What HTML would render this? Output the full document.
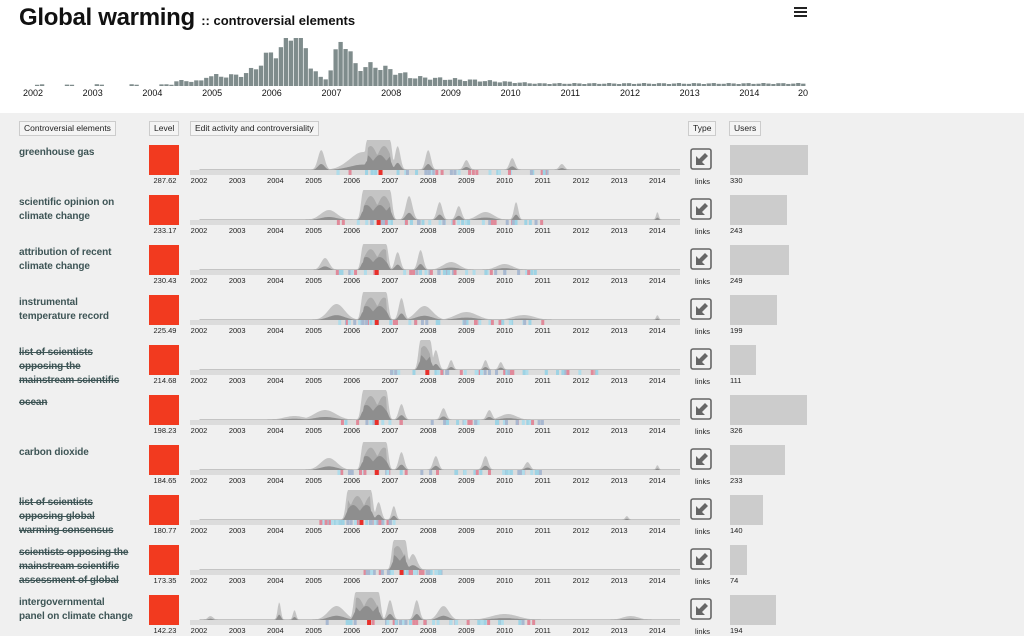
<!DOCTYPE html>
<html><head><meta charset="utf-8">
<style>
body{margin:0;width:1024px;height:633px;overflow:hidden;background:#f0f0f0;font-family:"Liberation Sans",sans-serif;position:relative}
#top{position:absolute;left:0;top:0;width:1024px;height:113px;background:#fff}
h1{position:absolute;left:19px;top:4px;margin:0;font-size:24px;font-weight:bold;color:#111;letter-spacing:-0.3px}
h1 span{font-size:13px;font-weight:bold;letter-spacing:0}
.ham{position:absolute;left:794px;top:7px;width:13px}
.ham div{height:2px;background:#222;margin-bottom:2px}
.hdr{position:absolute;top:121px;height:13px;border:1px solid #ccc;background:#f4f4f4;font-size:8.5px;line-height:13px;padding:0 4px;color:#222}
.name{position:absolute;left:19px;font-size:10px;font-weight:bold;color:#3e5556;line-height:14px;width:130px;letter-spacing:-0.1px}
.s{text-decoration:line-through}
.lvl{position:absolute;left:149px;width:30px;height:30px;background:#f23a1f}
.val{position:absolute;font-size:7.5px;color:#222}
.ico{position:absolute;left:690px;width:22px;height:22px}
.usr{position:absolute;left:730px;height:30px;background:#ccc}
svg text{font-family:"Liberation Sans",sans-serif}
</style></head><body>
<div id="top"></div>
<h1>Global warming <span>:: controversial elements</span></h1>
<div class="ham"><div></div><div></div><div></div></div>
<svg id="hist" style="position:absolute;left:0;top:0" width="1024" height="113"></svg>
<div class="hdr" style="left:19px">Controversial elements</div>
<div class="hdr" style="left:149px">Level</div>
<div class="hdr" style="left:190px">Edit activity and controversiality</div>
<div class="hdr" style="left:688px">Type</div>
<div class="hdr" style="left:729px">Users</div>
<svg id="sp" style="position:absolute;left:0;top:0" width="1024" height="633"></svg>
<div id="rows"></div>
<script>
var NS="http://www.w3.org/2000/svg";
function el(p,t,a,txt){var e=document.createElementNS(NS,t);for(var k in a)e.setAttribute(k,a[k]);if(txt)e.textContent=txt;p.appendChild(e);return e;}
var h=document.getElementById('hist');
var x0=33,py=59.7;
function hv(t){
 var v=1.5;
 if(t>2004.4)v=5;
 if(t>2004.9)v=10;
 v+=42*Math.exp(-Math.pow((t-2006.45)/0.18,2))+24*Math.exp(-Math.pow((t-2006.1)/0.35,2));
 v+=36*Math.exp(-Math.pow((t-2007.2)/0.15,2))+10*Math.exp(-Math.pow((t-2007.7)/0.4,2));
 if(t>2006.75&&t<2006.95)v=8;
 if(t>2008.3)v=Math.max(2,9-(t-2008.3)*3);
 if(t>2010.5)v=2.5;
 v*=0.8+0.4*((Math.sin(t*97.3)+1)/2);
 return v;}
for(var m=0;m<156;m++){var t=2002+m/12;var v=Math.min(48,hv(t));
 if(t<2004.3&&Math.sin(m*7.3)<0.5)continue;
 el(h,'rect',{x:x0-3+m*py/12,y:86-v,width:4.3,height:v,fill:'#7f8c8c'});}
var yrs=['2002','2003','2004','2005','2006','2007','2008','2009','2010','2011','2012','2013','2014','20'];
yrs.forEach(function(y,i){el(h,'text',{x:i==13?803:x0+i*py,y:96,'font-size':9,fill:'#111','text-anchor':'middle'},y)});
var rows=[
 ["greenhouse gas",0,"287.62",330,[[2006.4,2007.0,30],[2005.2,0.12,20],[2006.3,0.5,18],[2006.9,0.1,26],[2007.2,0.1,24],[2008.0,0.1,20],[2009,0.1,10],[2010.2,0.1,12],[2011.5,0.1,6]]],
 ["scientific opinion on<br>climate change",0,"233.17",243,[[2006.3,2007.0,30],[2005.4,0.3,10],[2007.5,0.12,24],[2008.3,0.1,18],[2008.8,0.1,14],[2010.3,0.08,18],[2009.5,0.3,8],[2014.0,0.05,8]]],
 ["attribution of recent<br>climate change",0,"230.43",249,[[2006.3,2006.9,26],[2005.3,0.15,12],[2007.2,0.1,18],[2007.8,0.1,20],[2008.6,0.3,8],[2010,0.3,6]]],
 ["instrumental<br>temperature record",0,"225.49",199,[[2006.3,2006.9,28],[2005.6,0.3,16],[2007.3,0.1,22],[2007.9,0.3,14],[2009,0.4,8],[2010.5,0.4,5],[2014.0,0.05,5]]],
 ["list of scientists<br>opposing the<br>mainstream scientific",1,"214.68",111,[[2007.8,2008.05,30],[2008.2,0.1,20],[2008.6,0.08,10],[2009.5,0.08,10],[2009.9,0.08,8]]],
 ["ocean",1,"198.23",326,[[2006.3,2006.9,30],[2005.3,0.4,10],[2007.3,0.1,16],[2008.4,0.1,12],[2009.6,0.1,10],[2010.1,0.3,6],[2004.5,0.4,4]]],
 ["carbon dioxide",0,"184.65",233,[[2006.3,2006.9,28],[2005.4,0.3,12],[2007.3,0.1,18],[2008.2,0.1,14],[2009.5,0.1,14],[2010.6,0.1,8],[2014,0.05,5]]],
 ["list of scientists<br>opposing global<br>warming consensus",1,"180.77",140,[[2005.9,2006.5,30],[2006.7,0.1,18],[2007.1,0.08,14],[2013.2,0.06,4]]],
 ["scientists opposing the<br>mainstream scientific<br>assessment of global",1,"173.35",74,[[2007.1,2007.4,30],[2007.6,0.15,16]]],
 ["intergovernmental<br>panel on climate change",0,"142.23",194,[[2006.1,2006.7,28],[2004.1,0.06,18],[2004.5,0.06,10],[2005.6,0.3,14],[2007.0,0.1,20],[2007.7,0.1,20],[2008.4,0.2,14],[2010,0.5,6],[2002.3,0.1,4],[2013.3,0.3,4]]]
];
var sp=document.getElementById('sp'),R=document.getElementById('rows');
var sx0=199,syr=38.2;
function X(t){return sx0+(t-2002)*syr;}
var html='';
rows.forEach(function(r,i){
 var top=145+i*50;
 html+='<div class="name'+(r[1]?' s':'')+'" style="top:'+(top+1)+'px">'+r[0]+'</div>';
 html+='<div class="lvl" style="top:'+top+'px"></div>';
 html+='<div class="val" style="left:149px;top:'+(top+31)+'px;width:32px;text-align:center">'+r[2]+'</div>';
 html+='<svg class="ico" style="top:'+(top+3)+'px" viewBox="0 0 22 22"><rect x="1" y="1" width="20" height="20" rx="2" fill="none" stroke="#666" stroke-width="1.6"/><path d="M6 8 L6 17 L15 17 L12 14 L18 8 L15 5 L9 11 Z" fill="#666"/></svg>';
 html+='<div class="val" style="left:695px;top:'+(top+32)+'px">links</div>';
 html+='<div class="usr" style="top:'+top+'px;width:'+(r[3]*78/330)+'px"></div>';
 html+='<div class="val" style="left:730px;top:'+(top+31)+'px">'+r[3]+'</div>';
 var by=top+25;
 el(sp,'rect',{x:190,y:by,width:490,height:5,fill:'#dcdcdc'});
 var b=r[4];var pb=b[0];
 for(var layer=0;layer<3;layer++){
  var pts=[];
  for(var px=190;px<=680;px+=1){var t=2002+(px-sx0)/syr;var v=0;
   if(t>=pb[0]&&t<=pb[1])v=pb[2]*(layer==0?1:layer==1?0.8:0.5)*(layer>0?(0.6+0.4*Math.abs(Math.sin(t*9+layer))):1);
   var e=(t-pb[0])/0.08,f=(t-pb[1])/0.08; if(t<pb[0])v=pb[2]*Math.exp(-e*e)*(layer==0?1:0.3);if(t>pb[1])v=pb[2]*Math.exp(-f*f)*(layer==0?1:0.3);
   for(var j=1;j<b.length;j++){var g=(t-b[j][0])/b[j][1];v=Math.max(v,b[j][2]*Math.exp(-g*g)*(layer==0?1:0.3));}
   if(t>2002&&layer==0)v=Math.max(v,1);
   pts.push(px+','+(by-v).toFixed(1));}
  el(sp,'polygon',{points:'190,'+by+' '+pts.join(' ')+' 680,'+by,fill:['#c4c4c4','#acacac','#8e8e8e'][layer]});
 }
 for(var k=0;k<40;k++){var s=Math.sin(k*12.9898+i*78.233)*43758.5453;s=s-Math.floor(s);
  var t=pb[0]-0.8+s*((b.length>4?5.5:2));if(t>2014.6)continue;
  var c=['#9ed3e4','#a8b8d0','#e08a9a','#b0dcea'][k%4];
  el(sp,'rect',{x:X(t),y:by,width:3,height:5,fill:c});}
 el(sp,'rect',{x:X(pb[0])+(pb[1]-pb[0])*syr*0.5,y:by,width:4,height:5,fill:'#e8302a'});
 ['2002','2003','2004','2005','2006','2007','2008','2009','2010','2011','2012','2013','2014'].forEach(function(y,q){
  el(sp,'text',{x:X(2002+q),y:by+13,'font-size':7.5,fill:'#222','text-anchor':'middle'},y);});
});
R.innerHTML=html;
</script>
</body></html>
